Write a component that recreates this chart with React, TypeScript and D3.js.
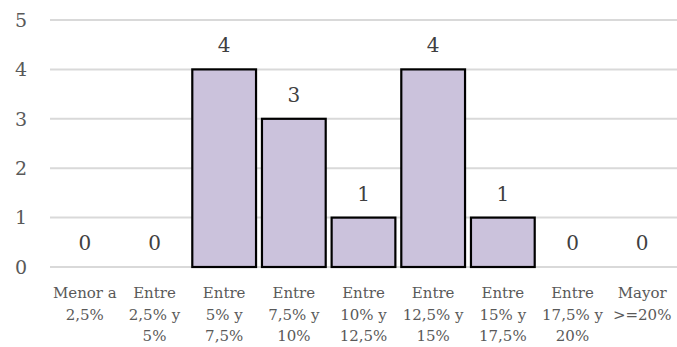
import React from "react";
import * as d3 from "d3";

const categories: string[][] = [
  ["Menor a", "2,5%"],
  ["Entre", "2,5% y", "5%"],
  ["Entre", "5% y", "7,5%"],
  ["Entre", "7,5% y", "10%"],
  ["Entre", "10% y", "12,5%"],
  ["Entre", "12,5% y", "15%"],
  ["Entre", "15% y", "17,5%"],
  ["Entre", "17,5% y", "20%"],
  ["Mayor", ">=20%"],
];
const values: number[] = [0, 0, 4, 3, 1, 4, 1, 0, 0];
const yTicks: number[] = [0, 1, 2, 3, 4, 5];

const W = 677;
const H = 347;
const FONT = "'DejaVu Serif', 'Liberation Serif', serif";

export default function App() {
  const x = d3
    .scaleBand<number>()
    .domain(values.map((_, i) => i))
    .range([50, 677])
    .paddingInner(0.085)
    .paddingOuter(0.0425);
  const y = d3.scaleLinear().domain([0, 5]).range([267, 20]);

  return (
    <svg
      width={W}
      height={H}
      style={{ position: "absolute", left: 0, top: 0, background: "#fff" }}
      fontFamily={FONT}
    >
      {yTicks.map((t) => (
        <g key={t}>
          <line x1={50} x2={677} y1={y(t)} y2={y(t)} stroke="#d9d9d9" strokeWidth={2} />
          <text x={21} y={y(t)} dy="0.36em" textAnchor="middle" fontSize={19} fill="#595959">
            {t}
          </text>
        </g>
      ))}
      {values.map((v, i) =>
        v > 0 ? (
          <rect
            key={i}
            x={x(i)!}
            y={y(v)}
            width={x.bandwidth()}
            height={y(0) - y(v)}
            fill="#cbc2dc"
            stroke="#000"
            strokeWidth={2.2}
          />
        ) : null
      )}
      {values.map((v, i) => (
        <text
          key={"l" + i}
          x={x(i)! + x.bandwidth() / 2}
          y={y(v) - 17}
          textAnchor="middle"
          fontSize={20}
          fill="#404040"
        >
          {v}
        </text>
      ))}
      {categories.map((lines, i) => (
        <text
          key={"c" + i}
          x={x(i)! + x.bandwidth() / 2}
          textAnchor="middle"
          fontSize={15}
          fill="#595959"
        >
          {lines.map((ln, j) => (
            <tspan key={j} x={x(i)! + x.bandwidth() / 2} y={298 + j * 21.5}>
              {ln}
            </tspan>
          ))}
        </text>
      ))}
    </svg>
  );
}
